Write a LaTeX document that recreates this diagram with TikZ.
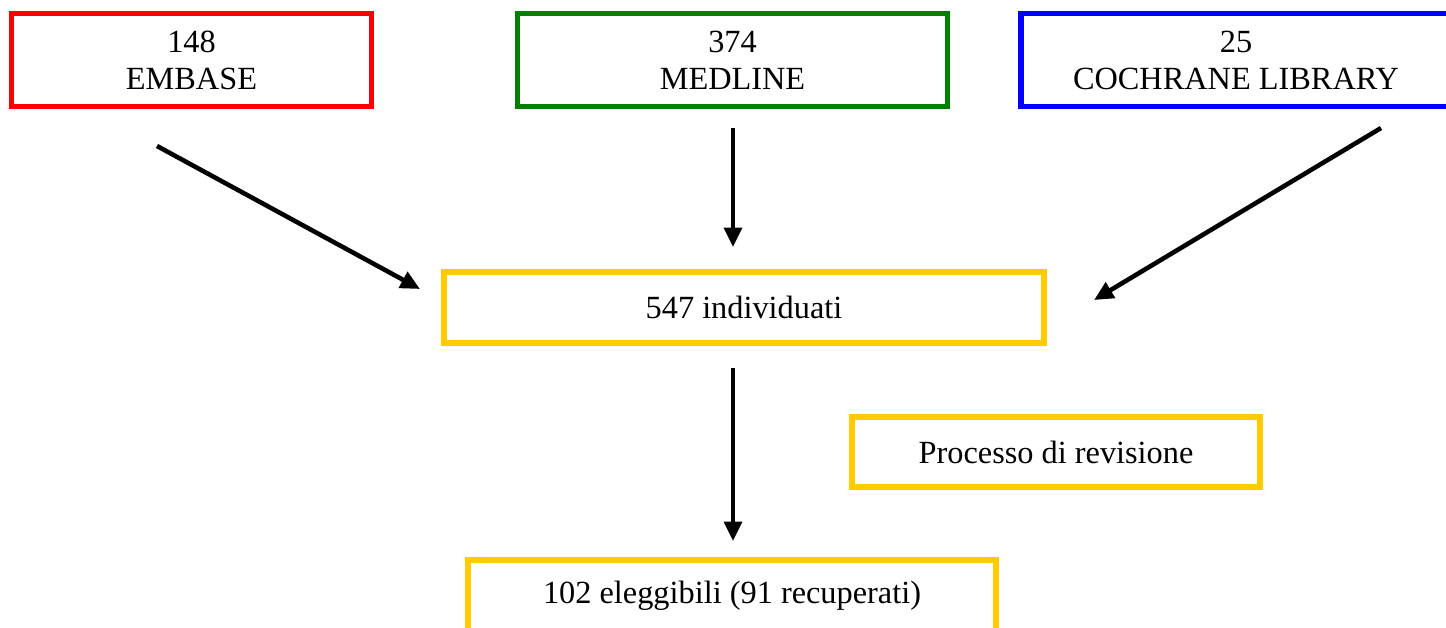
\documentclass[tikz,border=0pt]{standalone}
\usepackage{fontspec}
\setmainfont{Liberation Serif}
\usetikzlibrary{arrows.meta}
\definecolor{cred}{RGB}{255,0,0}
\definecolor{cgreen}{RGB}{0,128,0}
\definecolor{cblue}{RGB}{0,0,255}
\definecolor{cgold}{RGB}{255,204,0}
\begin{document}
\begin{tikzpicture}[x=0.02cm,y=-0.02cm,
  box/.style={draw, line width=3pt, align=center, inner sep=0pt,
    font=\fontsize{18.4}{21}\selectfont},
  arr/.style={line width=2.6pt, -{Triangle[length=11pt,width=10pt]}}]
\useasboundingbox (0,0) rectangle (1446,627);
\clip (0,0) rectangle (1446,627);
\fill[white] (0,0) rectangle (1446,627);
\node[box, draw=cred, minimum width=7.2cm, minimum height=1.86cm] (emb) at (191.5,60) {148\\EMBASE};
\node[box, draw=cgreen, minimum width=8.6cm, minimum height=1.86cm] (med) at (732.5,60) {374\\MEDLINE};
\node[box, draw=cblue, minimum width=8.6cm, minimum height=1.86cm] (coc) at (1236,60) {25\\COCHRANE LIBRARY};
\node[box, draw=cgold, minimum width=12cm, minimum height=1.42cm] (ind) at (744,307.5) {547 individuati};
\node[box, draw=cgold, minimum width=8.16cm, minimum height=1.4cm] (rev) at (1056,452) {Processo di revisione};
\node[box, draw=cgold, minimum width=10.56cm, minimum height=1.44cm] (ele) at (732,596) {102 eleggibili (91 recuperati)};
\coordinate (a1s) at (157,146);
\coordinate (a1e) at (420,289);
\coordinate (a2s) at (733,128);
\coordinate (a2e) at (733,247);
\coordinate (a3s) at (1381,128);
\coordinate (a3e) at (1094,300);
\coordinate (a4s) at (733,368);
\coordinate (a4e) at (733,541);
\draw[arr] (a1s) -- (a1e);
\draw[arr] (a2s) -- (a2e);
\draw[arr] (a3s) -- (a3e);
\draw[arr] (a4s) -- (a4e);
\end{tikzpicture}
\end{document}
